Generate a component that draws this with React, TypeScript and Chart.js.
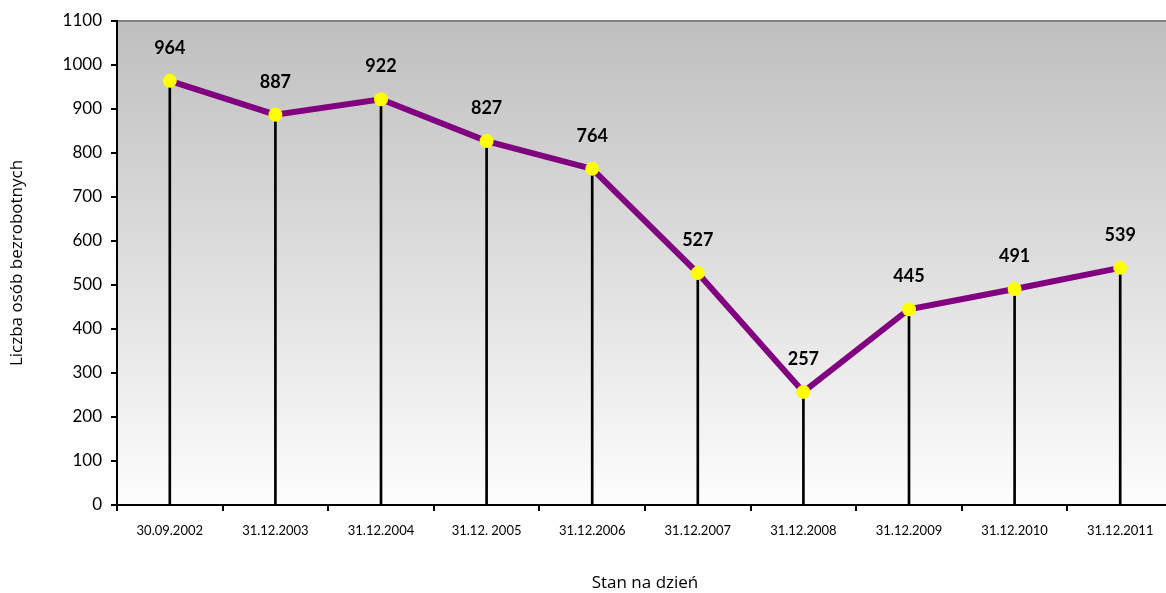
import React, { useEffect, useRef } from "react";
import { Chart, registerables } from "chart.js";

Chart.register(...registerables);

const categories = [
  "30.09.2002",
  "31.12.2003",
  "31.12.2004",
  "31.12. 2005",
  "31.12.2006",
  "31.12.2007",
  "31.12.2008",
  "31.12.2009",
  "31.12.2010",
  "31.12.2011",
];
const unemployed = [964, 887, 922, 827, 764, 527, 257, 445, 491, 539];
const yMin = 0;
const yMax = 1100;
const yStep = 100;

const FONT = "Lato, 'Open Sans', sans-serif";
const TITLE_FONT = "'Open Sans', Lato, sans-serif";

const bgPlugin = {
  id: "bgGradient",
  beforeDraw(chart: any) {
    const { ctx, chartArea } = chart;
    if (!chartArea) return;
    const g = ctx.createLinearGradient(0, chartArea.top, 0, chartArea.bottom);
    g.addColorStop(0, "#bfbfbf");
    g.addColorStop(1, "#fdfdfd");
    ctx.save();
    ctx.fillStyle = g;
    ctx.fillRect(chartArea.left, chartArea.top, chartArea.right - chartArea.left, chartArea.bottom - chartArea.top);
    ctx.strokeStyle = "#808080";
    ctx.lineWidth = 2;
    ctx.beginPath();
    ctx.moveTo(chartArea.left, chartArea.top);
    ctx.lineTo(chartArea.right, chartArea.top);
    ctx.stroke();
    ctx.restore();
  },
};

const labelPlugin = {
  id: "valueLabels",
  afterDatasetsDraw(chart: any) {
    const { ctx } = chart;
    const meta = chart.getDatasetMeta(1);
    ctx.save();
    ctx.font = `bold 18px ${FONT}`;
    ctx.fillStyle = "#000";
    ctx.textAlign = "center";
    ctx.textBaseline = "middle";
    meta.data.forEach((pt: any, i: number) => {
      ctx.fillText(String(unemployed[i]), pt.x, pt.y - 33);
    });
    ctx.restore();
  },
};

export default function App() {
  const ref = useRef<HTMLCanvasElement>(null);
  useEffect(() => {
    document.body.style.margin = "0";
    document.body.style.overflow = "hidden";
    const chart = new Chart(ref.current!, {
      type: "bar",
      data: {
        labels: categories,
        datasets: [
          {
            type: "bar",
            data: unemployed,
            backgroundColor: "#000",
            barThickness: 2,
            order: 2,
          },
          {
            type: "line",
            data: unemployed,
            borderColor: "#800080",
            borderWidth: 6,
            pointRadius: 7,
            pointBackgroundColor: "#ffff00",
            pointBorderWidth: 0,
            pointBorderColor: "#ffff00",
            tension: 0,
            order: 1,
          },
        ],
      } as any,
      options: {
        animation: false,
        responsive: false,
        maintainAspectRatio: false,
        layout: { padding: { top: 21, right: 3, left: 0, bottom: 0 } },
        plugins: { legend: { display: false }, tooltip: { enabled: false } },
        scales: {
          x: {
            offset: true,
            grid: { offset: true, drawOnChartArea: false, tickLength: 6, color: "#000", lineWidth: 2 },
            border: { color: "#000", width: 2 },
            ticks: { color: "#000", font: { family: FONT, size: 13 }, padding: 12, maxRotation: 0, autoSkip: false },
            title: { display: true, text: "Stan na dzień", color: "#000", font: { family: TITLE_FONT, size: 17 }, padding: { top: 0, bottom: 0 } },
            afterFit(scale: any) {
              scale.height = 88;
            },
          },
          y: {
            min: yMin,
            max: yMax,
            grid: { drawOnChartArea: false, tickLength: 6, color: "#000", lineWidth: 2 },
            border: { color: "#000", width: 2 },
            ticks: {
              stepSize: yStep,
              color: "#000",
              font: { family: FONT, size: 17 },
              padding: 9,
              callback: (v: any) => String(v),
            },
            title: { display: true, text: "Liczba osób bezrobotnych", color: "#000", font: { family: TITLE_FONT, size: 17 }, padding: { top: 7, bottom: 0 } },
            afterFit(scale: any) {
              scale.width = 117;
            },
          },
        },
      },
      plugins: [bgPlugin, labelPlugin],
    });
    return () => chart.destroy();
  }, []);
  return (
    <div style={{ width: 1180, height: 593 }}>
      <canvas ref={ref} width={1180} height={593} style={{ display: "block" }} />
    </div>
  );
}
